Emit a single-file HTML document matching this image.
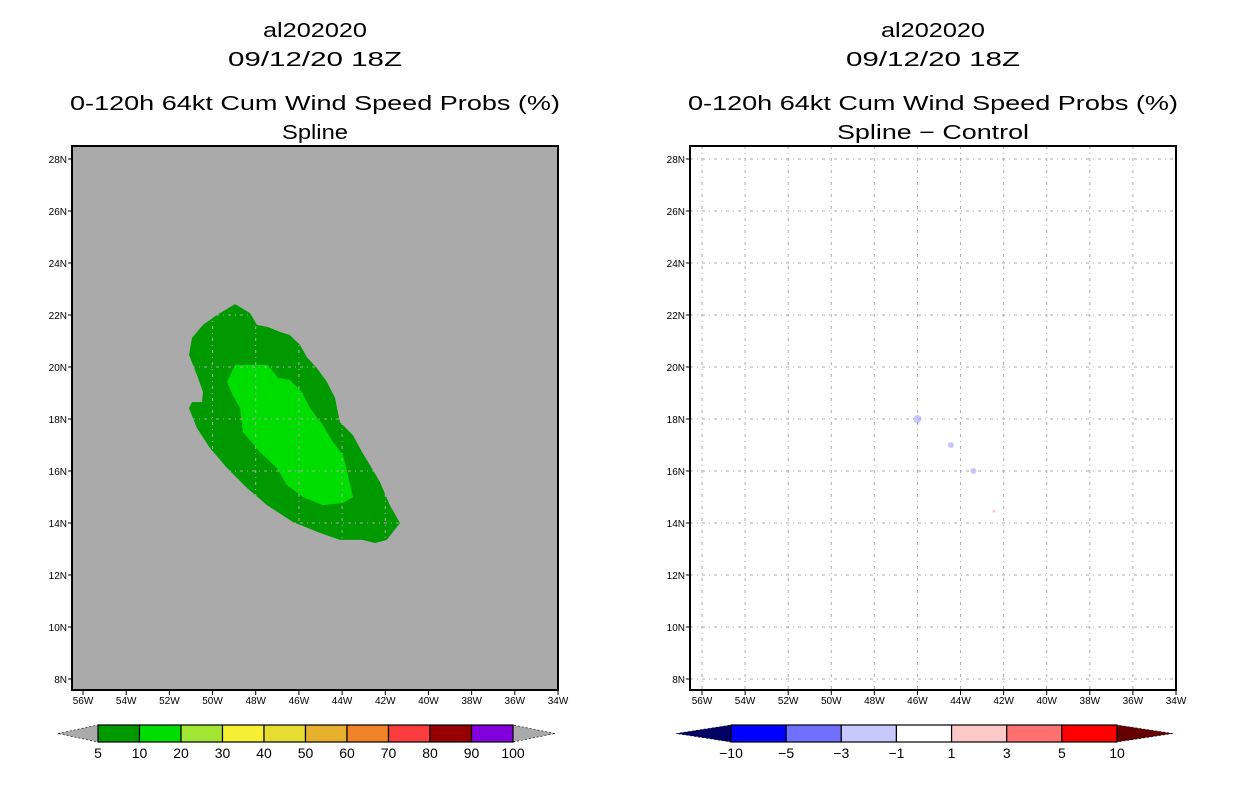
<!DOCTYPE html>
<html><head><meta charset="utf-8"><style>
body{margin:0;background:#fff;}
svg{display:block;font-family:"Liberation Sans",sans-serif;}
</style></head><body>
<svg id="s" width="1236" height="800" viewBox="0 0 1236 800" xmlns="http://www.w3.org/2000/svg"></svg>
<script>
// ---- data ----
const lonTicks = [-56,-54,-52,-50,-48,-46,-44,-42,-40,-38,-36,-34];
const latTicks = [8,10,12,14,16,18,20,22,24,26,28];
const outerLon = [-48.96,-48.27,-47.94,-47.44,-46.88,-46.42,-45.95,-45.63,-45.17,-44.70,-44.33,-44.10,-43.50,-43.08,-42.71,-42.25,-41.79,-41.32,-41.93,-42.48,-43.04,-44.10,-45.03,-46.28,-47.48,-48.41,-49.33,-50.12,-50.72,-51.09,-50.95,-50.49,-50.44,-50.72,-51.09,-50.95,-50.44,-49.80];
const outerLat = [22.42,22.08,21.62,21.54,21.35,21.23,20.85,20.38,19.96,19.42,18.81,17.88,17.38,16.73,16.23,15.58,14.69,14.00,13.35,13.23,13.35,13.35,13.62,14.04,14.69,15.35,16.12,16.88,17.65,18.42,18.65,18.65,19.04,19.69,20.46,21.12,21.62,22.00];
const innerLon = [-48.96,-47.44,-46.97,-46.42,-45.86,-45.49,-44.89,-44.43,-43.96,-43.73,-43.50,-43.96,-44.89,-45.81,-46.56,-47.02,-47.81,-48.59,-48.73,-49.06,-49.33];
const innerLat = [20.08,20.08,19.58,19.50,19.04,18.42,17.77,17.12,16.62,15.85,15.00,14.77,14.69,15.00,15.46,16.12,16.73,17.50,18.42,18.92,19.42];
const diffLon = [-46.0,-44.45,-43.4,-42.45];
const diffLat = [18.0,17.0,16.0,14.46];
const diffVal = [-2,-2,-2,2];
const probLevels = ["5","10","20","30","40","50","60","70","80","90","100"];
const probColors = ["#009900","#00dd00","#a0e632","#f5f032","#e6dc32","#e6af2d","#f08228","#fa3c3c","#960000","#8200dc"];
const diffLevels = ["\u221210","\u22125","\u22123","\u22121","1","3","5","10"];
const diffColors = ["#0000ff","#7070ff","#c8c8ff","#ffffff","#ffc8c8","#ff7070","#ff0000"];

const NS="http://www.w3.org/2000/svg";
const svg=document.getElementById('s');
function mk(tag,attrs,parent){const e=document.createElementNS(NS,tag);for(const k in attrs)e.setAttribute(k,attrs[k]);(parent||svg).appendChild(e);return e;}

function panel(x0,x1,lon56x,bg,title3,tl3,isLeft){
  const y0=146,y1=690;
  const sx=lon=>lon56x+(lon+56)*(x1-lon56x)/22;
  const sy=lat=>159+(28-lat)*26;
  const g=mk('g',{});
  
  
  const cx=(x0+x1)/2;
  const titles=[["al202020",30,104],["09/12/20 18Z",59,174],["0-120h 64kt Cum Wind Speed Probs (%)",103,490],[title3,132,tl3]];
  const tn=['case-id-title','date-title','product-title','method-title'];
  titles.forEach((t,i)=>{
    const e=mk('text',{x:cx,y:t[1]+7,'text-anchor':'middle','font-size':20,textLength:t[2],lengthAdjust:'spacingAndGlyphs',fill:'#000'},g);
    e.textContent=t[0];
    
    
  });
  const bgR=mk('rect',{x:x0,y:y0,width:x1-x0,height:y1-y0,fill:bg},g);
  
  
  if(isLeft){
    const pts=(lo,la)=>lo.map((v,i)=>sx(v).toFixed(1)+','+sy(la[i]).toFixed(1)).join(' ');
    const o=mk('polygon',{points:pts(outerLon,outerLat),fill:probColors[0]},g);
    
    
    const inn=mk('polygon',{points:pts(innerLon,innerLat),fill:probColors[1]},g);
    
    
  } else {
    diffLon.forEach((lo,i)=>{
      const c=mk('circle',{cx:sx(lo),cy:sy(diffLat[i]),r:i==0?4:(i==3?1.5:3),fill:diffVal[i]<0?'#c8c8ff':'#ffc8c8'},g);
      
      
    });
  }
  // grid
  lonTicks.forEach(l=>{const x=sx(l);if(x>x0+1&&x<x1-1){const e=mk('line',{x1:x,y1:y0,x2:x,y2:y1,stroke:'#aaaaaa','stroke-width':1,'stroke-dasharray':'3,4,1,4'},g);}});
  latTicks.forEach(l=>{const y=sy(l);const e=mk('line',{x1:x0,y1:y,x2:x1,y2:y,stroke:'#aaaaaa','stroke-width':1,'stroke-dasharray':'3,4,1,4'},g);});
  const fr=mk('rect',{x:x0,y:y0,width:x1-x0,height:y1-y0,fill:'none',stroke:'#000','stroke-width':2},g);
  
  
  lonTicks.forEach(l=>{
    const x=sx(l);
    mk('line',{x1:x,y1:y1,x2:x,y2:y1+5,stroke:'#000'},g);
    const t=mk('text',{x:x,y:y1+14,'text-anchor':'middle','font-size':10},g);
    t.textContent=Math.abs(l)+'W';
    
    
  });
  latTicks.forEach(l=>{
    const y=sy(l);
    mk('line',{x1:x0-4,y1:y,x2:x0,y2:y,stroke:'#000'},g);
    const t=mk('text',{x:x0-5,y:y+4,'text-anchor':'end','font-size':10},g);
    t.textContent=l+'N';
    
    
  });
  return g;
}
panel(72,558,83,'#aaaaaa',"Spline",66,true);
panel(690,1176,702,'#ffffff',"Spline \u2212 Control",192,false);

function colorbar(tipL,bx0,bx1,tipR,colors,levels,lc,rc,name){
  const g=mk('g',{});
  
  
  const y0=725,y1=742,ym=(y0+y1)/2;
  mk('polygon',{points:`${tipL},${ym} ${bx0},${y0} ${bx0},${y1}`,fill:lc,stroke:'#000','stroke-width':0.6,'stroke-dasharray':'2,2'},g);
  mk('polygon',{points:`${tipR},${ym} ${bx1},${y0} ${bx1},${y1}`,fill:rc,stroke:'#000','stroke-width':0.6,'stroke-dasharray':'2,2'},g);
  const w=(bx1-bx0)/colors.length;
  colors.forEach((c,i)=>{
    const r=mk('rect',{x:bx0+i*w,y:y0,width:w,height:y1-y0,fill:c,stroke:'#000','stroke-width':1.2},g);
    
    
  });
  levels.forEach((lv,i)=>{
    const t=mk('text',{x:bx0+i*w,y:758,'text-anchor':'middle','font-size':14,fill:'#000'},g);
    t.textContent=lv;
    
    
  });
}
colorbar(58,98,513,555,probColors,probLevels,'#aaaaaa','#aaaaaa','probability-colorbar');
colorbar(676,731,1117,1173,diffColors,diffLevels,'#000064','#640000','difference-colorbar');
</script>
</body></html>
